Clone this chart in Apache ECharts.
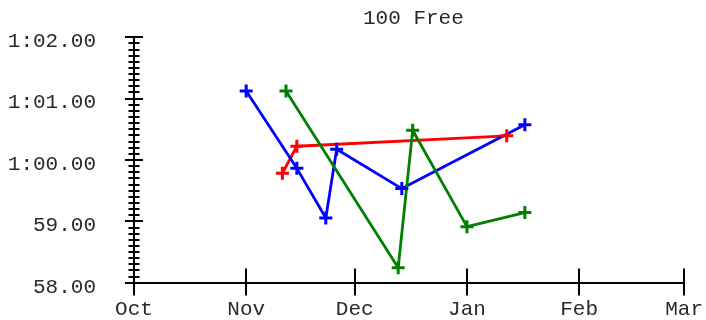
<!DOCTYPE html>
<html>
<head>
<meta charset="utf-8">
<script src="https://cdn.jsdelivr.net/npm/echarts@6/dist/echarts.min.js"></script>
<style>html,body{margin:0;padding:0;background:#fff}#c{width:706px;height:320px}</style>
</head>
<body>
<div id="c"></div>
<script>
// ---- data ----
const titleText = '100 Free';
const monthNames = ['Jan','Feb','Mar','Apr','May','Jun','Jul','Aug','Sep','Oct','Nov','Dec'];
const xTickDates = ['2015-10-01','2015-11-01','2015-12-01','2016-01-01','2016-02-01','2016-03-01'];
const yTicks = [58, 59, 60, 61, 62];

const redDates   = ['2015-11-11','2015-11-15','2016-01-12'];
const redTimes   = [59.78, 60.22, 60.39];
const blueDates  = ['2015-11-01','2015-11-15','2015-11-23','2015-11-26','2015-12-14','2016-01-17'];
const blueTimes  = [61.12, 59.86, 59.05, 60.17, 59.53, 60.57];
const greenDates = ['2015-11-12','2015-12-13','2015-12-17','2016-01-01','2016-01-17'];
const greenTimes = [61.12, 58.24, 60.48, 58.91, 59.14];

// ---- helpers ----
function toTs(s){ return new Date(s + 'T00:00:00').getTime(); }
function pair(d, v){ return d.map((x,i)=>[toTs(x), v[i]]); }
function fmtTime(v){
  let t;
  if (v >= 60) {
    const m = Math.floor(v/60);
    const s = v - m*60;
    const ss = s.toFixed(2);
    t = m + ':' + (s < 10 ? '0' + ss : ss);
  } else {
    t = v.toFixed(2);
  }
  return '{a|' + t + '}';
}
const FONT = 'Liberation Mono';
const plus = 'path://M5,0h3v5h5v3h-5v5h-3v-5h-5v-3h5z';
const xTicks = xTickDates.map(toTs);

const chart = echarts.init(document.getElementById('c'), null, {renderer:'canvas'});
const axisLineStyle = {color:'#000', width:2};

function mkSeries(name, color, d, v){
  return {
    name, type:'line', data: pair(d, v), xAxisIndex:0, yAxisIndex:0,
    symbol: plus, symbolSize: 13, showSymbol:true,
    lineStyle:{color, width:2.8},
    itemStyle:{color},
    z: 3
  };
}

chart.setOption({
  animation:false,
  title:{
    text: titleText, left: 358, top: 3,
    textStyle:{fontFamily:FONT, fontSize:21, fontWeight:'normal', color:'#2a2a2a'}
  },
  grid:{left:134, right:19.4, top:37, bottom:37.5, containLabel:false},
  xAxis:[{
    type:'value', position:'bottom',
    min: xTicks[0], max: xTicks[xTicks.length-1],
    axisLine:{show:true, lineStyle:axisLineStyle},
    axisTick:{show:true, inside:false, length:13, lineStyle:{color:'#000', width:2}, customValues: xTicks},
    axisLabel:{show:true, margin:16, customValues: xTicks,
      formatter: v => monthNames[new Date(v).getMonth()],
      fontFamily:FONT, fontSize:21, color:'#2a2a2a', hideOverlap:false, showMinLabel:true, showMaxLabel:true},
    splitLine:{show:false}
  },{
    type:'value', position:'bottom',
    min: xTicks[0], max: xTicks[xTicks.length-1],
    axisLine:{show:false},
    axisTick:{show:true, inside:true, length:14, lineStyle:{color:'#000', width:2}, customValues: xTicks},
    axisLabel:{show:false},
    splitLine:{show:false}
  }],
  yAxis:[{
    type:'value', position:'left', min:yTicks[0], max:yTicks[yTicks.length-1], interval:1,
    axisLine:{show:true, lineStyle:axisLineStyle},
    axisTick:{show:true, inside:false, length:9, lineStyle:{color:'#000', width:2}},
    minorTick:{show:true, splitNumber:10, length:5.5, lineStyle:{color:'#000', width:2}},
    axisLabel:{show:true, margin:38, formatter: fmtTime,
      rich:{a:{fontFamily:FONT, fontSize:21, color:'#2a2a2a', padding:[9,0,0,0]}}},
    splitLine:{show:false}, minorSplitLine:{show:false}
  },{
    type:'value', position:'left', min:yTicks[0], max:yTicks[yTicks.length-1], interval:1,
    axisLine:{show:false},
    axisTick:{show:true, inside:true, length:9, lineStyle:{color:'#000', width:2}},
    minorTick:{show:true, splitNumber:10, length:5.5, lineStyle:{color:'#000', width:2}},
    axisLabel:{show:false},
    splitLine:{show:false}, minorSplitLine:{show:false}
  }],
  series:[
    mkSeries('red', '#ff0000', redDates, redTimes),
    mkSeries('blue', '#0000ff', blueDates, blueTimes),
    mkSeries('green', '#008000', greenDates, greenTimes)
  ]
});
</script>
</body>
</html>
